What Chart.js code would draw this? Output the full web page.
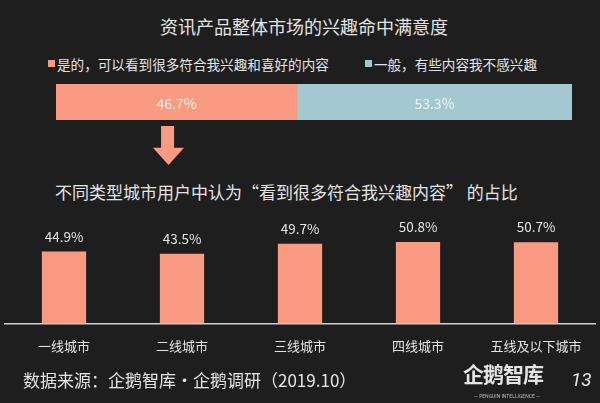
<!DOCTYPE html>
<html>
<head>
<meta charset="utf-8">
<script src="https://cdn.jsdelivr.net/npm/chart.js@4"></script>
<style>
  html, body { margin: 0; padding: 0; }
  body {
    width: 600px; height: 403px; position: relative; overflow: hidden;
    background: #1e1e1e;
    font-family: "Noto Sans CJK SC", "Noto Sans", sans-serif;
    color: #e4e4e4;
  }
  .abs { position: absolute; white-space: nowrap; }
  #title { left: 0; width: 608px; top: 14px; text-align: center; font-size: 18px; line-height: 24px; }
  #legend { left: 48px; top: 52px; font-size: 13.6px; line-height: 18px; }
  #legend span.item { display: inline-flex; align-items: center; }
  #legend span.box { display: inline-block; width: 7px; height: 7px; margin-right: 2px; }
  #arrow { left: 153px; top: 126px; width: 31px; height: 39px; background: #f99b83;
    clip-path: polygon(26% 0, 68% 0, 68% 56%, 100% 56%, 50% 100%, 0 56%, 26% 56%); }
  #subtitle { left: 55px; top: 180px; font-size: 17px; line-height: 24px; }
  #source { left: 23px; top: 368px; font-size: 17px; line-height: 24px; }
  #logo { left: 463px; top: 360px; font-size: 21px; line-height: 26px; font-weight: bold; letter-spacing: -1px; }
  #logo-sub { left: 462px; top: 393px; width: 90px; text-align: center; font-size: 5px; line-height: 7px; font-family: Roboto, sans-serif; color: #bbb; }
  #page { left: 571px; top: 368px; font-size: 19px; line-height: 24px; font-family: Roboto, sans-serif; font-style: italic; }
  #overall { left: 56px; top: 84px; }
  #cities { left: 0; top: 200px; }
</style>
</head>
<body>
<div id="title" class="abs">资讯产品整体市场的兴趣命中满意度</div>
<div id="legend" class="abs"></div>
<canvas id="overall" class="abs" width="516" height="36"></canvas>
<div id="arrow" class="abs"></div>
<div id="subtitle" class="abs">不同类型城市用户中认为“看到很多符合我兴趣内容” 的占比</div>
<canvas id="cities" class="abs" width="600" height="169"></canvas>
<div id="source" class="abs">数据来源：企鹅智库·企鹅调研（2019.10）</div>
<div id="logo" class="abs">企鹅智库</div>
<div id="logo-sub" class="abs">— PENGUIN INTELLIGENCE —</div>
<div id="page" class="abs">13</div>

<script>
// overall satisfaction
const overallLabels = ["是的，可以看到很多符合我兴趣和喜好的内容", "一般，有些内容我不感兴趣"];
const overallValues = [46.7, 53.3];
const overallColors = ["#f99b83", "#a3c8d0"];

// share by city tier
const cityCategories = ["一线城市", "二线城市", "三线城市", "四线城市", "五线及以下城市"];
const cityValues = [44.9, 43.5, 49.7, 50.8, 50.7];

const salmon = "#f99b83";
const textColor = "#e4e4e4";
const cjkFont = "'Noto Sans CJK SC', 'Noto Sans', sans-serif";

// legend (html)
const legendDiv = document.getElementById("legend");
overallLabels.forEach((label, i) => {
  const item = document.createElement("span");
  item.className = "item";
  if (i > 0) item.style.marginLeft = "36px";
  item.innerHTML = '<span class="box" style="background:' + overallColors[i] + '"></span>' + label;
  legendDiv.appendChild(item);
});

// draws the value in the middle of each stacked segment
const segmentLabels = {
  id: "segmentLabels",
  afterDatasetsDraw(chart) {
    const ctx = chart.ctx;
    ctx.save();
    ctx.font = "14px " + cjkFont;
    ctx.fillStyle = "rgba(255,255,255,0.85)";
    ctx.textAlign = "center";
    ctx.textBaseline = "middle";
    chart.data.datasets.forEach((ds, i) => {
      chart.getDatasetMeta(i).data.forEach((bar, j) => {
        ctx.fillText(ds.data[j].toFixed(1) + "%", (bar.x + bar.base) / 2, bar.y + 2);
      });
    });
    ctx.restore();
  }
};

// draws the value above each bar
const topLabels = {
  id: "topLabels",
  afterDatasetsDraw(chart) {
    const ctx = chart.ctx;
    ctx.save();
    ctx.font = "13.5px " + cjkFont;
    ctx.fillStyle = textColor;
    ctx.textAlign = "center";
    ctx.textBaseline = "middle";
    chart.getDatasetMeta(0).data.forEach((bar, j) => {
      ctx.fillText(cityValues[j].toFixed(1) + "%", bar.x, bar.y - 15);
    });
    ctx.restore();
  }
};

new Chart(document.getElementById("overall"), {
  type: "bar",
  data: {
    labels: [""],
    datasets: overallLabels.map((label, i) => ({
      label: label,
      data: [overallValues[i]],
      backgroundColor: overallColors[i],
      borderWidth: 0,
      barPercentage: 1,
      categoryPercentage: 1
    }))
  },
  options: {
    indexAxis: "y",
    responsive: false,
    animation: false,
    layout: { padding: 0 },
    scales: {
      x: { stacked: true, display: false, min: 0, max: 100 },
      y: { stacked: true, display: false }
    },
    plugins: { legend: { display: false }, tooltip: { enabled: false } }
  },
  plugins: [segmentLabels]
});

new Chart(document.getElementById("cities"), {
  type: "bar",
  data: {
    labels: cityCategories,
    datasets: [
      {
        label: "占比",
        data: cityValues,
        backgroundColor: salmon,
        borderWidth: 0,
        barPercentage: 0.75,
        categoryPercentage: 0.5
      }
    ]
  },
  options: {
    responsive: false,
    animation: false,
    layout: { padding: { left: 5, right: 5, top: 0, bottom: 0 } },
    scales: {
      x: {
        grid: { display: false, drawTicks: false },
        border: { display: true, color: "#cfcfcf", width: 1.5 },
        ticks: {
          color: textColor,
          padding: 15,
          font: { family: cjkFont, size: 13 }
        }
      },
      y: { display: false, min: 0, max: 77 }
    },
    plugins: { legend: { display: false }, tooltip: { enabled: false } }
  },
  plugins: [topLabels]
});
</script>
</body>
</html>
